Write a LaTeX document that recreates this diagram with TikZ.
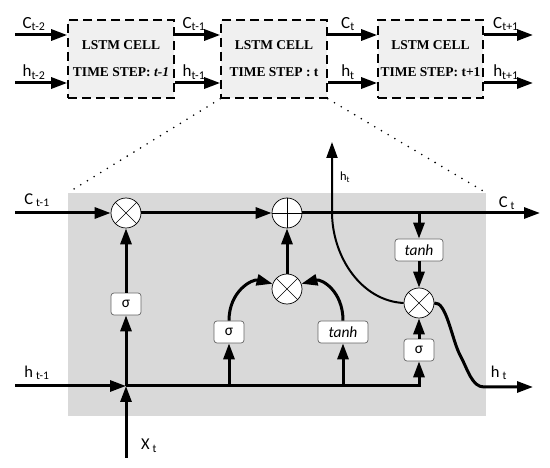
\documentclass[tikz,border=0pt]{standalone}
\usepackage{fontspec}
\setmainfont{Liberation Serif}
\newfontfamily\lab{Carlito}
\usetikzlibrary{arrows.meta}
\definecolor{topgray}{HTML}{F0F0F0}
\definecolor{cellgray}{HTML}{D9D9D9}
\begin{document}
\begin{tikzpicture}[x=1pt,y=-1pt,
  arr/.style={line width=3pt,-{Triangle[length=16pt,width=11pt]}},
  cellbox/.style={draw, dash pattern=on 9pt off 5pt, line width=1.6pt, fill=topgray, minimum width=106pt, minimum height=78pt, inner sep=0pt, align=center, font=\fontsize{13.5}{15}\selectfont\bfseries},
  op/.style={circle, draw, line width=0.7pt, fill=white, minimum size=30pt, inner sep=0pt},
  gate/.style={draw=black!60, line width=0.7pt, rounded corners=3pt, fill=white, minimum height=22pt, inner sep=0pt, font=\lab\fontsize{15.5}{15.5}\selectfont},
  toplab/.style={font=\lab\fontsize{17}{17}\selectfont, inner sep=0pt},
  mainlab/.style={font=\lab\fontsize{16.5}{16.5}\selectfont, inner sep=0pt},
  dots/.style={line width=1.8pt, line cap=round, dash pattern=on 0pt off 7.8pt}
]
\useasboundingbox (0,0) rectangle (550,468);

% ---- top chain ----
\node[cellbox] (b1) at (121,59) {LSTM CELL\\[12pt]TIME STEP: \textit{t-1}};
\node[cellbox] (b2) at (274,59) {LSTM CELL\\[12pt]TIME STEP : t};
\node[cellbox, minimum width=105pt] (b3) at (430.5,59) {LSTM CELL\\[12pt]TIME STEP: t+1};

\coordinate (c0) at (15,35);
\coordinate (h0) at (15,83);
\coordinate (c4) at (533,35);
\coordinate (h4) at (533,83);

\draw[arr] (c0) -- (c0 -| b1.west);
\draw[arr] (h0) -- (h0 -| b1.west);
\draw[arr] (b1.east |- c0) -- (b2.west |- c0);
\draw[arr] (b1.east |- h0) -- (b2.west |- h0);
\draw[arr] (b2.east |- c0) -- (b3.west |- c0);
\draw[arr] (b2.east |- h0) -- (b3.west |- h0);
\draw[arr] (b3.east |- c0) -- (c4);
\draw[arr] (b3.east |- h0) -- (h4);

\node[toplab] (lc0) at (34,24) {C\textsubscript{t-2}};
\node[toplab] (lh0) at (34,72) {h\textsubscript{t-2}};
\node[toplab] (lc1) at (194,24) {C\textsubscript{t-1}};
\node[toplab] (lh1) at (194,72) {h\textsubscript{t-1}};
\node[toplab] (lc2) at (348,24) {C\textsubscript{t}};
\node[toplab] (lh2) at (348,72) {h\textsubscript{t}};
\node[toplab] (lc3) at (506,24) {C\textsubscript{t+1}};
\node[toplab] (lh3) at (506,72) {h\textsubscript{t+1}};

% ---- cell detail ----
\node[fill=cellgray, minimum width=418pt, minimum height=223pt, inner sep=0pt] (cell) at (277,304.5) {};
\draw[dots] (b2.south west) -- (cell.north west);
\draw[dots] (b2.south east) -- (cell.north east);

\node[op] (fm) at (126,213) {};
\node[op] (pl) at (287,213) {};
\node[op] (im) at (287,289) {};
\node[op] (om) at (419,303) {};
\foreach \n in {fm,im,om}
  \draw[line width=0.6pt] (\n.north west) -- (\n.south east) (\n.north east) -- (\n.south west);
\draw[line width=0.6pt] (pl.north) -- (pl.south) (pl.west) -- (pl.east);

\node[gate, minimum width=30pt] (fg) at (126,304) {σ};
\node[gate, minimum width=30pt] (ig) at (229,332) {σ};
\node[gate, minimum width=50pt] (tg) at (343,332) {\itshape tanh};
\node[gate, minimum width=48pt] (oth) at (419,250) {\itshape tanh};
\node[gate, minimum width=30pt] (og) at (419,350) {σ};

\coordinate (cL) at (15,213);
\coordinate (cR) at (540,213);
\coordinate (cB) at (419,213);
\coordinate (hL) at (15,386);
\coordinate (hJ) at (126,386);
\coordinate (hS) at (229,386);
\coordinate (hT) at (343,386);
\coordinate (xB) at (126,458);
\coordinate (hBend) at (332,212);
\coordinate (hUp) at (332,142);
\coordinate (hMid) at (460,355);
\coordinate (hTurn) at (484,387);
\coordinate (hOut) at (533,387);

\draw[arr] (cL) -- (fm.west);
\draw[arr] (fm.east) -- (pl.west);
\draw[arr] (pl.east) -- (cR);
\draw[arr] (cB) -- (oth.north);
\draw[arr] (oth.south) -- (om.north);
\draw[arr] (hL) -- (hJ);
\draw[arr] (xB) -- (hJ);
\draw[arr] (hJ) -- (fg.south);
\draw[arr] (fg.north) -- (fm.south);
\draw[arr] (hJ) -| (og.south);
\draw[arr] (hS) -- (ig.south);
\draw[arr] (hT) -- (tg.south);
\draw[arr] (og.north) -- (om.south);
\draw[arr] (im.north) -- (pl.south);
\draw[arr] (ig.north) .. controls +(0,-30) and +(-20,-5) .. (im.160);
\draw[arr] (tg.north) .. controls +(0,-30) and +(20,-5) .. (im.20);

\draw[line width=2pt,-{Triangle[length=16pt,width=11pt]}] (om.west) .. controls +(-42,-2) and +(0,45) .. (hBend) -- (hUp);
\draw[arr] (om.east) .. controls +(12,-2) and +(-8,-15) .. (hMid) .. controls +(8,15) and +(-12,0) .. (hTurn) -- (hOut);

\node[mainlab] (lct1) at (37,200) {C\textsubscript{\hspace{3pt}t-1}};
\node[mainlab] (lht1) at (37,373) {h\textsubscript{\hspace{3pt}t-1}};
\node[mainlab] (lxt) at (149,446) {X\textsubscript{\hspace{3pt}t}};
\node[mainlab] (lct) at (507,203) {C\textsubscript{\hspace{3pt}t}};
\node[mainlab] (lht) at (499,373) {h\textsubscript{\hspace{3pt}t}};
\node[font=\lab\fontsize{12.5}{12.5}\selectfont, inner sep=0pt] (lhu) at (345,177) {h\textsubscript{t}};
\end{tikzpicture}
\end{document}
